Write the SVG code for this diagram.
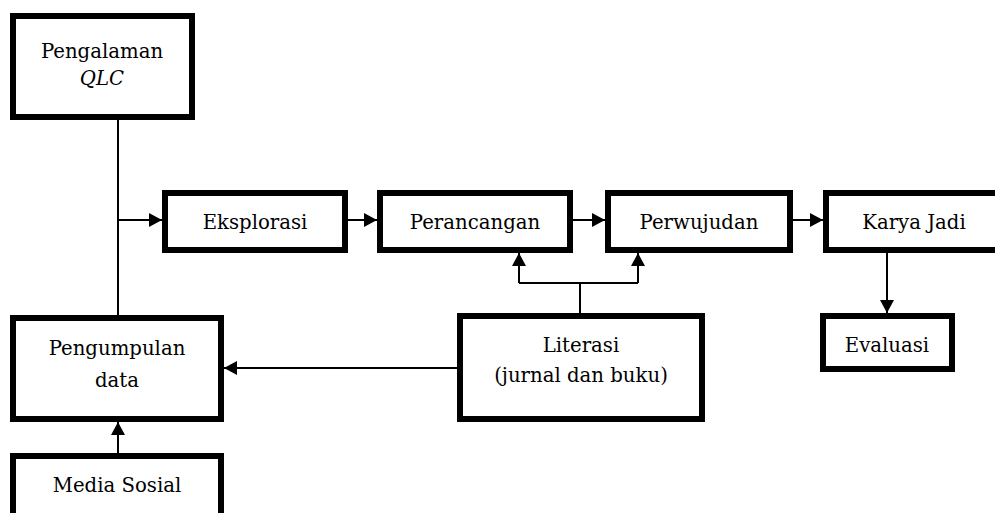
<svg xmlns="http://www.w3.org/2000/svg" width="995" height="513" viewBox="0 0 995 513">
<defs>
<marker id="ah" markerUnits="userSpaceOnUse" markerWidth="14" markerHeight="14" refX="13" refY="7" orient="auto">
<path d="M0,0 L13,7 L0,14 Z" fill="#000"/>
</marker>
<style>
.box{fill:#fff;stroke:#000;stroke-width:6}
.t{font-family:"DejaVu Serif","Liberation Serif",serif;font-size:19.7px;fill:#000;text-anchor:middle}
.c{fill:none;stroke:#000;stroke-width:2}
</style>
</defs>
<rect width="995" height="513" fill="#fff"/>
<g id="connectors">
<line class="c" x1="118" y1="120" x2="118" y2="315"/>
<line class="c" x1="118" y1="220" x2="162" y2="220" marker-end="url(#ah)"/>
<line class="c" x1="348" y1="220" x2="377" y2="220" marker-end="url(#ah)"/>
<line class="c" x1="573" y1="220" x2="605" y2="220" marker-end="url(#ah)"/>
<line class="c" x1="793" y1="220" x2="823" y2="220" marker-end="url(#ah)"/>
<line class="c" x1="580" y1="313" x2="580" y2="283"/>
<polyline class="c" points="519,283 638,283"/>
<line class="c" x1="519" y1="283" x2="519" y2="253" marker-end="url(#ah)"/>
<line class="c" x1="638" y1="283" x2="638" y2="253" marker-end="url(#ah)"/>
<line class="c" x1="457" y1="368" x2="224" y2="368" marker-end="url(#ah)"/>
<line class="c" x1="118" y1="453" x2="118" y2="422" marker-end="url(#ah)"/>
<line class="c" x1="887" y1="253" x2="887" y2="313" marker-end="url(#ah)"/>
</g>
<g id="pengalaman">
<rect class="box" x="13" y="16" width="179" height="101"/>
<text class="t" x="102" y="58">Pengalaman</text>
<text class="t" x="102" y="85" font-style="italic">QLC</text>
</g>
<g id="eksplorasi">
<rect class="box" x="165" y="193" width="180" height="57"/>
<text class="t" x="255" y="229">Eksplorasi</text>
</g>
<g id="perancangan">
<rect class="box" x="380" y="193" width="190" height="57"/>
<text class="t" x="475" y="229">Perancangan</text>
</g>
<g id="perwujudan">
<rect class="box" x="608" y="193" width="182" height="57"/>
<text class="t" x="699" y="229">Perwujudan</text>
</g>
<g id="karya-jadi">
<rect class="box" x="826" y="193" width="190" height="57"/>
<text class="t" x="914" y="229">Karya Jadi</text>
</g>
<g id="pengumpulan">
<rect class="box" x="13" y="318" width="208" height="101"/>
<text class="t" x="117" y="355">Pengumpulan</text>
<text class="t" x="117" y="387">data</text>
</g>
<g id="literasi">
<rect class="box" x="460" y="316" width="242" height="103"/>
<text class="t" x="581" y="352">Literasi</text>
<text class="t" x="581" y="382">(jurnal dan buku)</text>
</g>
<g id="evaluasi">
<rect class="box" x="823" y="316" width="129" height="53"/>
<text class="t" x="887" y="352">Evaluasi</text>
</g>
<g id="media-sosial">
<rect class="box" x="13" y="456" width="208" height="80"/>
<text class="t" x="117" y="492">Media Sosial</text>
</g>
</svg>
